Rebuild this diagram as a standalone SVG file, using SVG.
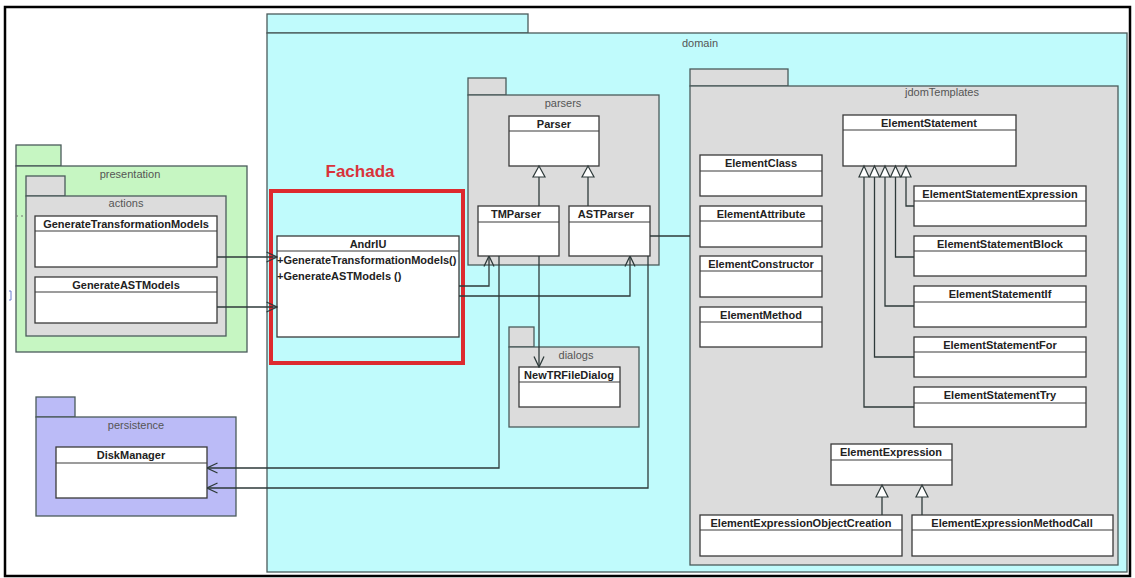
<svg xmlns="http://www.w3.org/2000/svg" width="1135" height="578" viewBox="0 0 1135 578">
<defs>
<style>
.frame{fill:#ffffff;stroke:#000;stroke-width:2.5}
.pk{stroke:#4b5b5b;stroke-width:1.3}
.cyan{fill:#c0fbfc}
.gray{fill:#dcdcdc}
.green{fill:#c6f6c2}
.blue{fill:#bbbbf7}
.cb{fill:#ffffff;stroke:#3a3a3a;stroke-width:1.3}
.hl{stroke:#3a3a3a;stroke-width:1.2}
.ct{font-family:"Liberation Sans",Arial,sans-serif;font-weight:bold;font-size:11px;fill:#222;text-anchor:middle}
.op{font-family:"Liberation Sans",Arial,sans-serif;font-weight:bold;font-size:11px;fill:#222}
.pl{font-family:"Liberation Sans",Arial,sans-serif;font-size:11px;fill:#555;text-anchor:middle}
.cn{fill:none;stroke:#2e3a3a;stroke-width:1.3}
.gen{fill:#ffffff;stroke:#2e3a3a;stroke-width:1.2}
</style>
<marker id="dep" viewBox="0 0 12 12" markerWidth="12" markerHeight="12" refX="11.5" refY="6" orient="auto" markerUnits="userSpaceOnUse">
<path d="M1,1 L11.5,6 L1,11" fill="none" stroke="#2e3a3a" stroke-width="1.3"/>
</marker>
</defs>

<rect class="frame" x="5" y="7" width="1125" height="569"/>

<!-- presentation -->
<g id="presentation">
<rect class="pk green" x="16" y="145" width="45" height="21"/>
<rect class="pk green" x="16" y="166" width="231" height="186"/>
<text class="pl" x="130" y="178">presentation</text>
<line x1="16" y1="216" x2="27" y2="216" stroke="#777" stroke-width="1" stroke-dasharray="2,3"/>
</g>
<g id="actions">
<rect class="pk gray" x="26" y="176" width="39" height="20"/>
<rect class="pk gray" x="26" y="196" width="200" height="140"/>
<text class="pl" x="126" y="207">actions</text>
</g>
<g id="GenerateTransformationModels">
<rect class="cb" x="35" y="216" width="182" height="51"/>
<line class="hl" x1="35" y1="231" x2="217" y2="231"/>
<text class="ct" x="126" y="228">GenerateTransformationModels</text>
</g>
<g id="GenerateASTModels">
<rect class="cb" x="35" y="277" width="182" height="46"/>
<line class="hl" x1="35" y1="292" x2="217" y2="292"/>
<text class="ct" x="126" y="289">GenerateASTModels</text>
</g>

<!-- persistence -->
<g id="persistence">
<rect class="pk blue" x="36" y="397" width="39" height="20"/>
<rect class="pk blue" x="36" y="417" width="200" height="99"/>
<text class="pl" x="136" y="429">persistence</text>
</g>
<g id="DiskManager">
<rect class="cb" x="56" y="447" width="151" height="51"/>
<line class="hl" x1="56" y1="463" x2="207" y2="463"/>
<text class="ct" x="131" y="459">DiskManager</text>
</g>

<path d="M9,291 h2 v9 h-2" fill="none" stroke="#6a7fd0" stroke-width="1"/>

<!-- domain -->
<g id="domain">
<rect class="pk cyan" x="267" y="14" width="261" height="19"/>
<rect class="pk cyan" x="267" y="33" width="860" height="539"/>
<text class="pl" x="700" y="47">domain</text>
</g>

<g id="fachada">
<text x="360" y="177" font-family="'Liberation Sans',Arial,sans-serif" font-weight="bold" font-size="17" fill="#d9333b" text-anchor="middle">Fachada</text>
<rect x="271" y="191" width="192" height="172" fill="none" stroke="#dd2a2f" stroke-width="4"/>
</g>
<g id="AndrIU">
<rect class="cb" x="277" y="236" width="182" height="101"/>
<line class="hl" x1="277" y1="251" x2="459" y2="251"/>
<text class="ct" x="368" y="248">AndrIU</text>
<text class="op" x="277" y="264">+GenerateTransformationModels()</text>
<text class="op" x="277" y="280">+GenerateASTModels ()</text>
</g>

<!-- parsers -->
<g id="parsers">
<rect class="pk gray" x="468" y="78" width="38" height="17"/>
<rect class="pk gray" x="468" y="95" width="191" height="170"/>
<text class="pl" x="563" y="107">parsers</text>
</g>
<g id="Parser">
<rect class="cb" x="509" y="116" width="90" height="50"/>
<line class="hl" x1="509" y1="131" x2="599" y2="131"/>
<text class="ct" x="554" y="128">Parser</text>
</g>
<g id="TMParser">
<rect class="cb" x="478" y="206" width="81" height="50"/>
<line class="hl" x1="478" y1="222" x2="559" y2="222"/>
<text class="ct" x="516" y="218">TMParser</text>
</g>
<g id="ASTParser">
<rect class="cb" x="569" y="206" width="81" height="50"/>
<line class="hl" x1="569" y1="222" x2="650" y2="222"/>
<text class="ct" x="606" y="218">ASTParser</text>
</g>

<!-- dialogs -->
<g id="dialogs">
<rect class="pk gray" x="509" y="327" width="25" height="20"/>
<rect class="pk gray" x="509" y="347" width="130" height="80"/>
<text class="pl" x="576" y="359">dialogs</text>
</g>
<g id="NewTRFileDialog">
<rect class="cb" x="519" y="367" width="101" height="40"/>
<line class="hl" x1="519" y1="382" x2="620" y2="382"/>
<text class="ct" x="569" y="379">NewTRFileDialog</text>
</g>

<!-- jdomTemplates -->
<g id="jdomTemplates">
<rect class="pk gray" x="690" y="69" width="98" height="17"/>
<rect class="pk gray" x="690" y="86" width="428" height="479"/>
<text class="pl" x="942" y="96">jdomTemplates</text>
</g>
<g id="ElementClass">
<rect class="cb" x="700" y="155" width="122" height="41"/>
<line class="hl" x1="700" y1="171" x2="822" y2="171"/>
<text class="ct" x="761" y="167">ElementClass</text>
</g>
<g id="ElementAttribute">
<rect class="cb" x="700" y="206" width="122" height="41"/>
<line class="hl" x1="700" y1="221" x2="822" y2="221"/>
<text class="ct" x="761" y="218">ElementAttribute</text>
</g>
<g id="ElementConstructor">
<rect class="cb" x="700" y="256" width="122" height="41"/>
<line class="hl" x1="700" y1="271" x2="822" y2="271"/>
<text class="ct" x="761" y="268">ElementConstructor</text>
</g>
<g id="ElementMethod">
<rect class="cb" x="700" y="307" width="122" height="40"/>
<line class="hl" x1="700" y1="322" x2="822" y2="322"/>
<text class="ct" x="761" y="319">ElementMethod</text>
</g>
<g id="ElementStatement">
<rect class="cb" x="843" y="115" width="173" height="51"/>
<line class="hl" x1="843" y1="130" x2="1016" y2="130"/>
<text class="ct" x="929" y="127">ElementStatement</text>
</g>
<g id="ElementStatementExpression">
<rect class="cb" x="914" y="186" width="172" height="40"/>
<line class="hl" x1="914" y1="201" x2="1086" y2="201"/>
<text class="ct" x="1000" y="198">ElementStatementExpression</text>
</g>
<g id="ElementStatementBlock">
<rect class="cb" x="914" y="236" width="172" height="40"/>
<line class="hl" x1="914" y1="251" x2="1086" y2="251"/>
<text class="ct" x="1000" y="248">ElementStatementBlock</text>
</g>
<g id="ElementStatementIf">
<rect class="cb" x="914" y="286" width="172" height="41"/>
<line class="hl" x1="914" y1="302" x2="1086" y2="302"/>
<text class="ct" x="1000" y="298">ElementStatementIf</text>
</g>
<g id="ElementStatementFor">
<rect class="cb" x="914" y="337" width="172" height="40"/>
<line class="hl" x1="914" y1="352" x2="1086" y2="352"/>
<text class="ct" x="1000" y="349">ElementStatementFor</text>
</g>
<g id="ElementStatementTry">
<rect class="cb" x="914" y="387" width="172" height="40"/>
<line class="hl" x1="914" y1="403" x2="1086" y2="403"/>
<text class="ct" x="1000" y="399">ElementStatementTry</text>
</g>
<g id="ElementExpression">
<rect class="cb" x="831" y="444" width="121" height="41"/>
<line class="hl" x1="831" y1="460" x2="952" y2="460"/>
<text class="ct" x="891" y="456">ElementExpression</text>
</g>
<g id="ElementExpressionObjectCreation">
<rect class="cb" x="700" y="515" width="202" height="41"/>
<line class="hl" x1="700" y1="530" x2="902" y2="530"/>
<text class="ct" x="801" y="527">ElementExpressionObjectCreation</text>
</g>
<g id="ElementExpressionMethodCall">
<rect class="cb" x="912" y="515" width="201" height="41"/>
<line class="hl" x1="912" y1="530" x2="1113" y2="530"/>
<text class="ct" x="1012" y="527">ElementExpressionMethodCall</text>
</g>

<!-- connectors -->
<g id="connectors">
<path class="cn" d="M217,257 H277" marker-end="url(#dep)"/>
<path class="cn" d="M217,307 H277" marker-end="url(#dep)"/>
<path class="cn" d="M459,286 H489 V256" marker-end="url(#dep)"/>
<path class="cn" d="M459,296 H630 V256" marker-end="url(#dep)"/>
<path class="cn" d="M539,256 V367" marker-end="url(#dep)"/>
<path class="cn" d="M499,256 V468 H207" marker-end="url(#dep)"/>
<path class="cn" d="M648,256 V488 H207" marker-end="url(#dep)"/>
<path class="cn" d="M650,236 H690"/>

<path class="cn" d="M539,206 V177"/>
<polygon class="gen" points="539,166 545,177 533,177"/>
<path class="cn" d="M588,206 V177"/>
<polygon class="gen" points="588,166 594,177 582,177"/>

<path class="cn" d="M906,177 V206 H914"/>
<path class="cn" d="M895.5,177 V257 H914"/>
<path class="cn" d="M885,177 V306 H914"/>
<path class="cn" d="M874.5,177 V357 H914"/>
<path class="cn" d="M864,177 V407 H914"/>
<polygon class="gen" points="864,166 869,177 859,177"/>
<polygon class="gen" points="874.5,166 879.5,177 869.5,177"/>
<polygon class="gen" points="885,166 890,177 880,177"/>
<polygon class="gen" points="895.5,166 900.5,177 890.5,177"/>
<polygon class="gen" points="906,166 911,177 901,177"/>

<path class="cn" d="M882,515 V497"/>
<polygon class="gen" points="882,485 888,497 876,497"/>
<path class="cn" d="M922,515 V497"/>
<polygon class="gen" points="922,485 928,497 916,497"/>
</g>
</svg>
